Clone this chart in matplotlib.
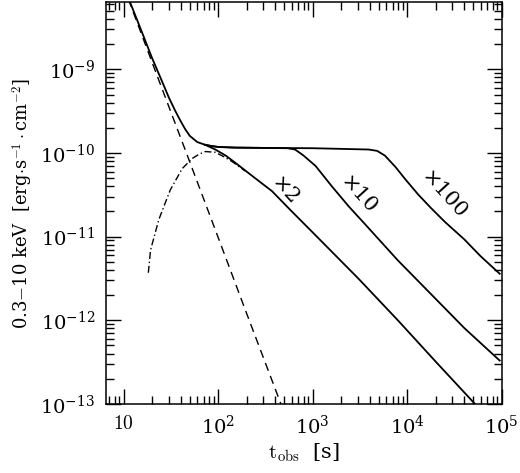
import matplotlib
matplotlib.use("Agg")
import matplotlib.pyplot as plt
from matplotlib.ticker import LogLocator, LogFormatterMathtext, NullFormatter, FuncFormatter

plt.rcParams['font.family'] = ['DejaVu Serif']
plt.rcParams['mathtext.fontset'] = 'cm'

# values (t in s, flux in erg s^-1 cm^-2)
t_dash = [6.5, 10, 20, 46, 100, 200, 460]
f_dash = [3.5e-8, 9.7e-9, 1.2e-9, 1.0e-10, 9.7e-12, 1.2e-12, 1.0e-13]

t_dd = [18.2, 19.2, 23.5, 31, 41.5, 53, 63, 73, 93, 115, 140, 192]
f_dd = [3.7e-12, 6.9e-12, 1.6e-11, 3.6e-11, 6.5e-11, 8.6e-11, 9.7e-11, 1.04e-10, 1.02e-10, 9.0e-11, 7.9e-11, 6.1e-11]

# early common part of the solid curves
t_early = [6.5, 10, 15, 20, 25, 30, 35, 40, 45, 50, 60, 73]
f_early = [3.5e-8, 9.8e-9, 3.1e-9, 1.35e-9, 7.5e-10, 4.6e-10, 3.2e-10, 2.4e-10, 1.9e-10, 1.6e-10, 1.35e-10, 1.25e-10]

t_x2 = [73, 93, 120, 150, 192, 270, 370, 600, 1000, 1590, 3000, 7950, 20000, 52000]
f_x2 = [1.25e-10, 1.1e-10, 9.3e-11, 7.7e-11, 6.2e-11, 4.6e-11, 3.5e-11, 2.0e-11, 1.12e-11, 6.6e-12, 3.2e-12, 1.0e-12, 3.2e-13, 1.0e-13]

t_x10 = [73, 85, 100, 150, 300, 540, 650, 800, 1070, 1590, 2400, 3590, 7950, 20000, 40000, 95000]
f_x10 = [1.25e-10, 1.21e-10, 1.18e-10, 1.16e-10, 1.15e-10, 1.14e-10, 1.1e-10, 9.3e-11, 7.0e-11, 4.0e-11, 2.3e-11, 1.4e-11, 5.2e-12, 1.8e-12, 8.1e-13, 3.3e-13]

t_x100 = [73, 85, 100, 150, 300, 1000, 2000, 3900, 4800, 5800, 7500, 9460, 13000, 17800, 25000, 40000, 60000, 95000]
f_x100 = [1.25e-10, 1.21e-10, 1.18e-10, 1.16e-10, 1.15e-10, 1.14e-10, 1.12e-10, 1.1e-10, 1.06e-10, 9.3e-11, 6.8e-11, 4.9e-11, 3.2e-11, 2.2e-11, 1.5e-11, 9.3e-12, 5.8e-12, 3.6e-12]

labels = ['×2', '×10', '×100']
label_t = [500, 3000, 24000]
label_f = [3.5e-11, 3.2e-11, 3.2e-11]

fig = plt.figure(figsize=(5.2, 4.73), dpi=100)
ax = fig.add_axes([0.204, 0.146, 0.761, 0.85])

lw = 1.3
ax.plot(t_dash, f_dash, color='k', lw=1.0, ls=(0, (6, 4)))
ax.plot(t_dd, f_dd, color='k', lw=1.0, ls=(0, (5, 2, 1, 2)))
ax.plot(t_early, f_early, color='k', lw=lw)
ax.plot(t_x2, f_x2, color='k', lw=lw)
ax.plot(t_x10, f_x10, color='k', lw=lw)
ax.plot(t_x100, f_x100, color='k', lw=lw)

for lab, tx, fy in zip(labels, label_t, label_f):
    ax.text(tx, fy, lab, fontsize=15, rotation=-48, ha='center', va='center')

ax.set_xscale('log')
ax.set_yscale('log')
ax.set_xlim(6.5, 1e5)
ax.set_ylim(1e-13, 6.4e-9)

ax.xaxis.set_major_locator(LogLocator(base=10, numticks=10))
ax.yaxis.set_major_locator(LogLocator(base=10, numticks=10))
ax.xaxis.set_minor_locator(LogLocator(base=10, subs=range(2, 10), numticks=20))
ax.yaxis.set_minor_locator(LogLocator(base=10, subs=range(2, 10), numticks=20))
ax.yaxis.set_major_formatter(LogFormatterMathtext())
ax.xaxis.set_major_formatter(FuncFormatter(
    lambda v, p: '$10$' if abs(v - 10) < 1e-6 else LogFormatterMathtext()(v, p)))
ax.xaxis.set_minor_formatter(NullFormatter())
ax.yaxis.set_minor_formatter(NullFormatter())
ax.tick_params(which='both', direction='in', top=True, right=True, labelsize=14, pad=8)
ax.tick_params(which='major', length=11, width=1)
ax.tick_params(which='minor', length=6, width=1)
for s in ax.spines.values():
    s.set_linewidth(1.1)

ax.set_xlabel(r'$\mathrm{t_{obs}}$  [s]', fontsize=15, labelpad=2)
ax.set_ylabel(r'0.3$-$10 keV  [erg$\cdot$s$^{-1}\cdot$cm$^{-2}$]', fontsize=13, labelpad=4)

fig.savefig('out.png', dpi=100)
